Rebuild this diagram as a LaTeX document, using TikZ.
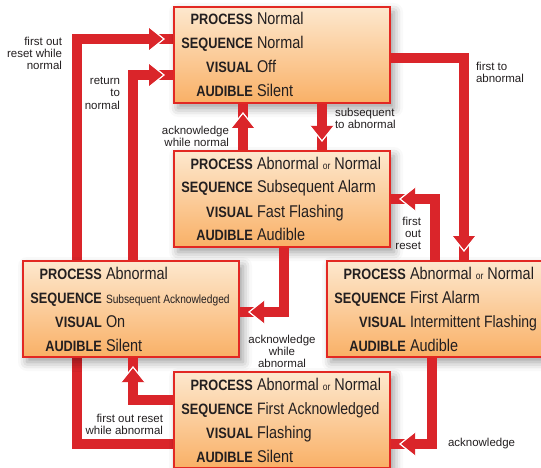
\documentclass[tikz,border=0pt]{standalone}
\usepackage{fontspec}
\setmainfont{Liberation Sans}
\newfontfamily\condfont[FakeStretch=0.85]{Liberation Sans}
\usetikzlibrary{positioning, decorations.markings, shadows.blur}

\definecolor{flowred}{RGB}{218,37,42}
\definecolor{boxred}{RGB}{226,40,35}
\definecolor{boxtop}{RGB}{253,232,206}
\definecolor{boxbot}{RGB}{249,176,102}
\definecolor{inkgray}{RGB}{35,31,32}

\pgfdeclarelayer{back}
\pgfsetlayers{back,main}

\newcommand{\staterow}[3][17]{\mbox{\spaceskip=0pt\xspaceskip=0pt\makebox[76pt][r]{\condfont\bfseries\fontsize{15}{24}\selectfont #2}\hspace{4pt}{\condfont\fontsize{#1}{24}\selectfont #3}\rule[-6pt]{0pt}{24pt}}}
\newcommand{\orword}{{\fontsize{10}{12}\selectfont or}}
\newcommand{\flowtip}{\fill[flowred] (-15pt,12pt) -- (0pt,0pt) -- (-15pt,-12pt) -- cycle;
  \draw[white, line width=1.2pt] (-15pt,12pt) -- (0pt,0pt) -- (-15pt,-12pt);}

\tikzstyle{state} = [rectangle, draw=boxred, line width=2pt, top color=boxtop, bottom color=boxbot, minimum width=216pt, minimum height=95pt, inner xsep=3pt, inner ysep=0pt, text width=210pt, align=left, text=inkgray, font=\fontsize{17}{24}\selectfont, blur shadow={shadow xshift=4pt, shadow yshift=-5pt, shadow blur radius=9pt, shadow opacity=40}]
\tikzstyle{flow} = [draw=flowred, line width=10pt, postaction={decorate, decoration={markings, mark=at position -9pt with {\flowtip}}}]
\tikzstyle{note} = [inner sep=0pt, text=inkgray, font=\fontsize{11.5}{12.3}\selectfont]

\begin{document}
\begin{tikzpicture}[x=1pt, y=1pt]
        \useasboundingbox (0,0) rectangle (541,-468);
        % States
        \node [state, anchor=north west] (normal) at (173,-6) {\staterow{PROCESS}{Normal}\\ \staterow{SEQUENCE}{Normal}\\ \staterow{VISUAL}{Off}\\ \staterow{AUDIBLE}{Silent}};
        \node [state, below=46pt of normal] (subalarm) {\staterow{PROCESS}{Abnormal \orword{} Normal}\\ \staterow{SEQUENCE}{Subsequent Alarm}\\ \staterow{VISUAL}{Fast Flashing}\\ \staterow{AUDIBLE}{Audible}};
        \node [state, below left=12pt and -67pt of subalarm] (suback) {\staterow{PROCESS}{Abnormal}\\ \staterow[12]{SEQUENCE}{Subsequent Acknowledged}\\ \staterow{VISUAL}{On}\\ \staterow{AUDIBLE}{Silent}};
        \node [state, below right=12pt and -65pt of subalarm] (firstalarm) {\staterow{PROCESS}{Abnormal \orword{} Normal}\\ \staterow{SEQUENCE}{First Alarm}\\ \staterow[16.5]{VISUAL}{Intermittent Flashing}\\ \staterow{AUDIBLE}{Audible}};
        \node [state, below=123pt of subalarm] (firstack) {\staterow{PROCESS}{Abnormal \orword{} Normal}\\ \staterow[16.5]{SEQUENCE}{First Acknowledged}\\ \staterow{VISUAL}{Flashing}\\ \staterow{AUDIBLE}{Silent}};

        % Transitions
        \begin{pgfonlayer}{back}
        \draw [flow] ([yshift=-24pt]firstack.west) -- ++(-96pt,0) |- node[note, pos=0.5, anchor=north east, align=right, xshift=-10pt, yshift=7pt] {first out\\reset while\\normal} ([yshift=16pt]normal.west);
        \end{pgfonlayer}
        \draw [flow] ([xshift=2pt]suback.north) |- node[note, pos=0.5, anchor=north east, align=right, xshift=-8pt, yshift=3pt] {return\\to\\normal} ([yshift=-20pt]normal.west);
        \draw [flow] ([xshift=-39pt]subalarm.north) -- node[note, pos=0.3, anchor=east, align=right, xshift=-9pt] {acknowledge\\while normal} ([xshift=-39pt]normal.south);
        \draw [flow] ([xshift=40pt]normal.south) -- node[note, pos=0.31, anchor=west, align=left, xshift=8pt] {subsequent\\to abnormal} ([xshift=40pt]subalarm.north);
        \draw [flow] ([yshift=-3pt]normal.east) -| node[note, pos=0.5, anchor=north west, align=left, xshift=7pt, yshift=1pt] {first to\\abnormal} ([xshift=29pt]firstalarm.north);
        \draw [flow] (firstalarm.north) |- node[note, pos=0.5, anchor=north east, align=right, xshift=-9pt, yshift=-13pt] {first\\out\\reset} (subalarm.east);
        \draw [flow] ([xshift=2pt]subalarm.south) |- node[note, pos=0.5, anchor=north, align=center, xshift=-2pt, yshift=-18pt] {acknowledge\\while\\abnormal} ([yshift=-3pt]suback.east);
        \draw [flow] ([xshift=-3pt]firstalarm.south) |- node[note, pos=0.5, anchor=west, xshift=11pt] {acknowledge} ([yshift=-24pt]firstack.east);
        \draw [flow] ([yshift=20pt]firstack.west) -| node[note, pos=0, anchor=north east, align=right, xshift=-5pt, yshift=-9pt] {first out reset\\while abnormal} ([xshift=2pt]suback.south);
    \end{tikzpicture}
\end{document}
